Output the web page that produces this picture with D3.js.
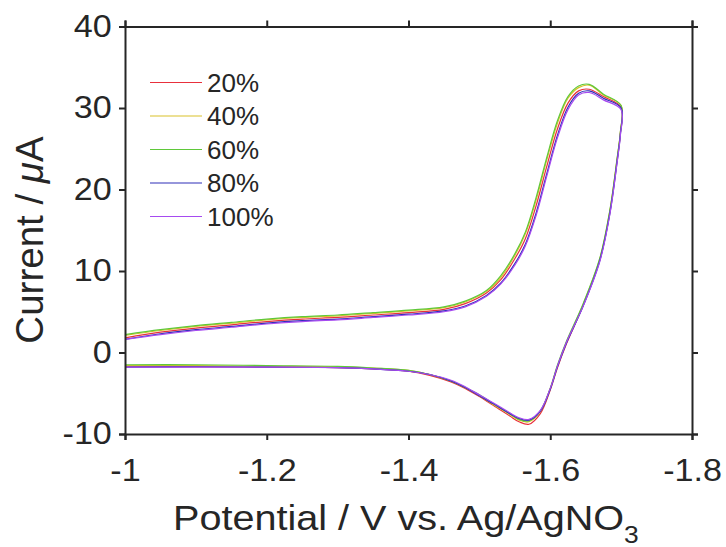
<!DOCTYPE html>
<html>
<head>
<meta charset="utf-8">
<script src="https://cdn.jsdelivr.net/npm/d3@7"></script>
<style>
  body { margin: 0; background: #fff; }
  text { font-family: "Liberation Sans", Arial, sans-serif; fill: #262626; }
</style>
</head>
<body>
<div id="chart"></div>
<script>
// cyclic voltammograms, sweep goes -1 -> -1.7 and back
var potential = [
  -1.00, -1.05, -1.10, -1.15, -1.20, -1.25, -1.30, -1.35, -1.40, -1.45,
  -1.48, -1.51, -1.53, -1.55, -1.565, -1.58, -1.595, -1.61, -1.625, -1.64,
  -1.655, -1.675, -1.70,
  -1.699, -1.694, -1.684, -1.670, -1.646, -1.623, -1.610, -1.600, -1.586, -1.570,
  -1.556, -1.543, -1.520, -1.500, -1.480, -1.460, -1.430, -1.400, -1.350, -1.300,
  -1.200, -1.100, -1.000
];

var labels = ["20%", "40%", "60%", "80%", "100%"];
var colors = ["#e8303c", "#d9c22a", "#5fc83a", "#2e2eb8", "#a64bf0"];

var current20 = [
  1.8, 2.5, 3.0, 3.4, 3.8, 4.1, 4.3, 4.6, 4.9, 5.3,
  6.0, 7.3, 8.9, 11.5, 14.0, 18.0, 22.8, 27.4, 30.6, 32.1,
  32.3, 31.4, 30.1,
  27.0, 23.4, 17.2, 11.4, 5.7, 1.1, -1.9, -4.6, -7.5, -8.8,
  -8.5, -7.8, -6.5, -5.4, -4.4, -3.6, -2.8, -2.3, -2.0, -1.85,
  -1.8, -1.75, -1.75
];
var current40 = [
  2.1, 2.7, 3.2, 3.6, 4.0, 4.3, 4.5, 4.8, 5.1, 5.5,
  6.2, 7.5, 9.2, 11.9, 14.6, 18.7, 23.6, 28.1, 31.2, 32.5,
  32.8, 31.6, 30.3,
  27.0, 23.5, 17.3, 11.5, 5.8, 1.3, -1.7, -4.4, -7.2, -8.5,
  -8.3, -7.6, -6.4, -5.3, -4.3, -3.5, -2.7, -2.2, -1.9, -1.75,
  -1.7, -1.6, -1.6
];
var current60 = [
  2.2, 2.8, 3.3, 3.7, 4.1, 4.4, 4.6, 4.9, 5.2, 5.6,
  6.3, 7.6, 9.4, 12.1, 14.8, 19.0, 23.9, 28.4, 31.4, 32.7,
  32.9, 31.7, 30.3,
  27.1, 23.6, 17.4, 11.6, 5.9, 1.4, -1.6, -4.4, -7.2, -8.4,
  -8.2, -7.5, -6.3, -5.2, -4.3, -3.5, -2.7, -2.2, -1.9, -1.7,
  -1.6, -1.5, -1.5
];
var current80 = [
  1.6, 2.3, 2.8, 3.2, 3.6, 3.9, 4.1, 4.4, 4.7, 5.1,
  5.7, 7.0, 8.5, 10.9, 13.3, 17.1, 21.9, 26.6, 30.1, 31.8,
  32.1, 31.2, 30.0,
  26.8, 23.2, 17.0, 11.3, 5.6, 1.2, -1.8, -4.5, -7.2, -8.3,
  -8.1, -7.5, -6.3, -5.3, -4.3, -3.5, -2.7, -2.3, -2.0, -1.85,
  -1.8, -1.75, -1.8
];
var current100 = [
  1.6, 2.2, 2.7, 3.1, 3.5, 3.8, 4.0, 4.3, 4.6, 5.0,
  5.6, 6.9, 8.4, 10.7, 13.1, 16.8, 21.6, 26.3, 29.8, 31.6,
  31.9, 31.0, 29.8,
  26.7, 23.1, 16.9, 11.2, 5.6, 1.3, -1.7, -4.4, -7.1, -8.2,
  -8.0, -7.4, -6.2, -5.2, -4.2, -3.4, -2.7, -2.3, -2.0, -1.85,
  -1.8, -1.8, -1.8
];
var currents = [current20, current40, current60, current80, current100];

var xTicks = [-1, -1.2, -1.4, -1.6, -1.8];
var yTicks = [-10, 0, 10, 20, 30, 40];

var svgWidth = 726;
var svgHeight = 547;
var margin = { top: 26.5, right: 34, bottom: 113, left: 125 };
var width = svgWidth - margin.left - margin.right;
var height = svgHeight - margin.top - margin.bottom;

var svg = d3.select("#chart")
  .append("svg")
  .attr("width", svgWidth)
  .attr("height", svgHeight);

var chartGroup = svg.append("g")
  .attr("transform", `translate(${margin.left}, ${margin.top})`);

var xScale = d3.scaleLinear().domain([-1, -1.8]).range([0, width]);
var yScale = d3.scaleLinear().domain([-10, 40]).range([height, 0]);

// curves
var line = d3.line()
  .x(d => xScale(d[0]))
  .y(d => yScale(d[1]))
  .curve(d3.curveCatmullRom.alpha(0.5));

currents.forEach(function(series, i) {
  var pts = potential.map((p, k) => [p, series[k]]);
  chartGroup.append("path")
    .datum(pts)
    .attr("fill", "none")
    .attr("stroke", colors[i])
    .attr("stroke-width", 1.2)
    .attr("d", line);
});

// plain hyphen minus like the original figure
var fmt = d => String(d);

// axes, all four sides with outward ticks
function styleAxis(g) {
  g.select(".domain").attr("stroke", "#262626").attr("stroke-width", 2);
  g.selectAll(".tick line").attr("stroke", "#262626").attr("stroke-width", 2);
  g.selectAll("text").attr("font-size", "31px").attr("fill", "#262626")
    .attr("font-family", "Liberation Sans, Arial, sans-serif");
}

chartGroup.append("g")
  .attr("transform", `translate(0, ${height})`)
  .call(d3.axisBottom(xScale).tickValues(xTicks).tickSize(6).tickSizeOuter(6).tickPadding(19)
    .tickFormat(fmt))
  .call(styleAxis)
  .selectAll("text").attr("transform", "scale(1.1,1)");

chartGroup.append("g")
  .call(d3.axisTop(xScale).tickValues(xTicks).tickSize(6).tickSizeOuter(6).tickFormat(""))
  .call(styleAxis);

chartGroup.append("g")
  .call(d3.axisLeft(yScale).tickValues(yTicks).tickSize(6).tickSizeOuter(6).tickPadding(6)
    .tickFormat(fmt))
  .call(styleAxis)
  .selectAll("text").attr("transform", "scale(1.1,1)");

chartGroup.append("g")
  .attr("transform", `translate(${width}, 0)`)
  .call(d3.axisRight(yScale).tickValues(yTicks).tickSize(6).tickSizeOuter(6).tickFormat(""))
  .call(styleAxis);

// axis labels
var xLabel = svg.append("text")
  .attr("transform", "translate(173, 530) scale(1.1,1)")
  .attr("font-size", "36px");
xLabel.append("tspan").text("Potential / V vs. Ag/AgNO");
xLabel.append("tspan").attr("font-size", "24px").attr("dy", 13).text("3");

var yLabel = svg.append("text")
  .attr("transform", "translate(43, 240) rotate(-90)")
  .attr("text-anchor", "middle")
  .attr("font-size", "38.5px");
yLabel.append("tspan").text("Current / ");
yLabel.append("tspan").attr("font-style", "italic").text("\u03bc");
yLabel.append("tspan").text("A");

// legend
var legend = svg.append("g").attr("transform", "translate(150, 82.5)");
labels.forEach(function(name, i) {
  var row = legend.append("g").attr("transform", `translate(0, ${i * 33.5})`);
  row.append("line")
    .attr("x1", 0).attr("x2", 52)
    .attr("stroke", colors[i])
    .attr("stroke-width", 1.2);
  row.append("text")
    .attr("x", 57)
    .attr("dy", "0.35em")
    .attr("font-size", "26px")
    .text(name);
});
</script>
</body>
</html>
